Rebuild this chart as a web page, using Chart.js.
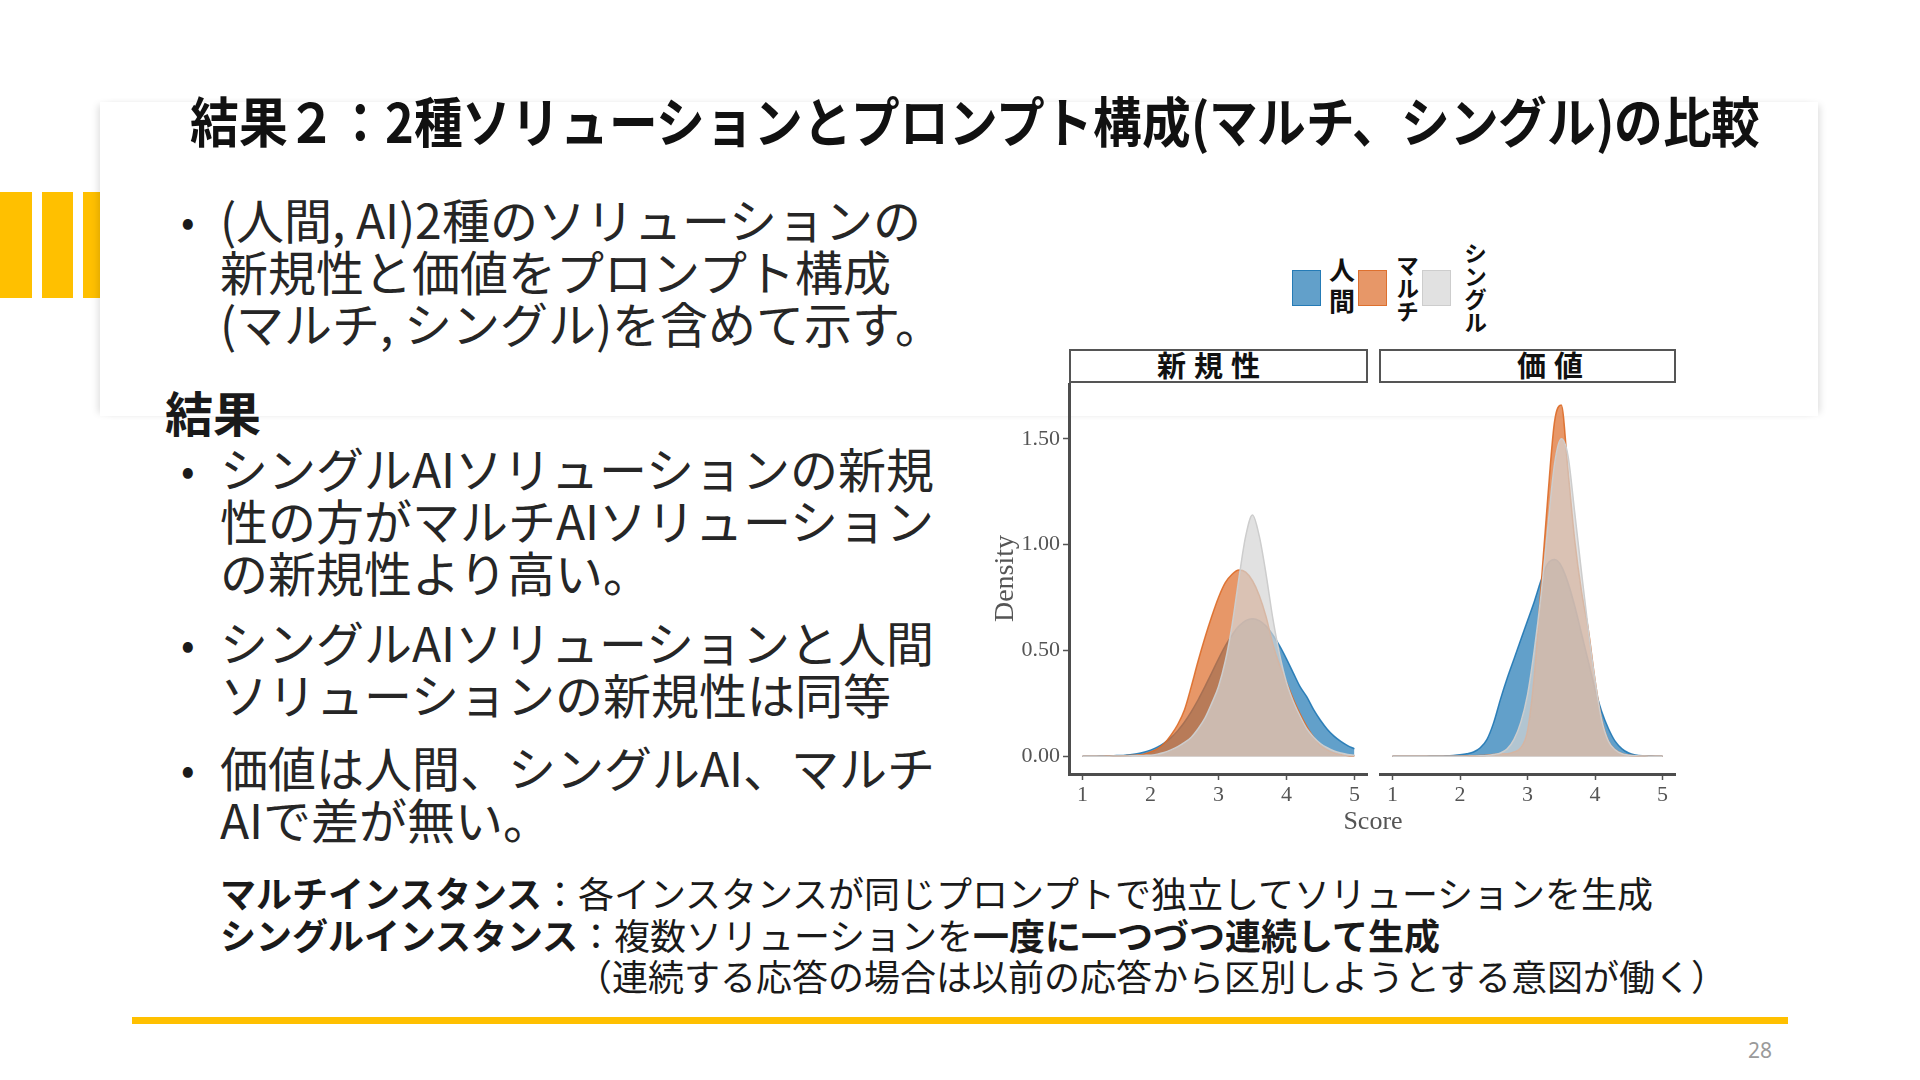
<!DOCTYPE html>
<html lang="ja">
<head>
<meta charset="utf-8">
<title>結果２</title>
<script src="https://cdn.jsdelivr.net/npm/chart.js@4.4.1/dist/chart.umd.min.js"></script>
<style>
  @font-face {
    font-family: 'JPTight'; font-weight: 400;
    src: local('Noto Sans CJK JP'), local('NotoSansCJKjp-Regular'), local('Noto Sans CJK JP Regular');
    ascent-override: 88%; descent-override: 20%; line-gap-override: 0%;
  }
  @font-face {
    font-family: 'JPTight'; font-weight: 700;
    src: local('Noto Sans CJK JP Bold'), local('NotoSansCJKjp-Bold');
    ascent-override: 88%; descent-override: 20%; line-gap-override: 0%;
  }
  html, body { margin: 0; padding: 0; background: #fff; }
  #slide {
    position: relative; width: 1920px; height: 1080px; overflow: hidden;
    font-family: 'JPTight', 'Noto Sans CJK JP', 'Noto Sans CJK SC', sans-serif; color: #1a1a1a;
  }
  .bar { position: absolute; top: 192px; height: 106px; background: #FFC000; }
  #card {
    position: absolute; left: 100px; top: 102px; width: 1718px; height: 314px; background: #fff;
    box-shadow: -5px 0 7px -3px rgba(0,0,0,0.13), 5px 0 7px -3px rgba(0,0,0,0.13);
  }
  #title {
    position: absolute; left: 190px; top: 95px; font-size: 54px; font-weight: 700; line-height: 60px;
    white-space: nowrap; transform-origin: 0 50%; color: #111;
  }
  .para {
    position: absolute; left: 220px; font-size: 48px; font-weight: 400; line-height: 52px; white-space: nowrap; color: #262626;
  }
  .dot { position: absolute; left: 181px; font-size: 40px; line-height: 52px; }
  #head { position: absolute; left: 165px; top: 390px; font-size: 48px; font-weight: 700; line-height: 52px; }
  #notes {
    position: absolute; left: 220px; top: 875px; font-size: 36px; line-height: 41.5px; white-space: nowrap; font-weight: 400;
  }
  #notes b { font-weight: 700; }
  #yline { position: absolute; left: 132px; top: 1017px; width: 1656px; height: 7px; background: #FFC000; }
  #pnum { position: absolute; left: 1740px; top: 1036px; width: 40px; text-align: center; font-size: 21px; color: #9a9a9a; font-family: 'Noto Sans', sans-serif; }
  canvas { position: absolute; }
  .strip {
    position: absolute; top: 349px; height: 34px; box-sizing: border-box; border: 2.5px solid #555; background: #fff;
    text-align: center; font-size: 29px; font-weight: 700; line-height: 33px; letter-spacing: 8px; color: #111; overflow: hidden;
  }
  #legend { position: absolute; left: 1292px; top: 236px; height: 104px; display: flex; align-items: center; }
  .key { width: 29px; height: 36px; box-sizing: border-box; border: 1.5px solid; }
  .lab {
    writing-mode: vertical-rl; text-orientation: upright; font-size: 23px; font-weight: 700; color: #111;
    width: 24px; margin: 0 3px 0 8px; line-height: 24px;
  }
  #score { position: absolute; left: 1313px; width: 120px; top: 806px; text-align: center; font-family: 'Liberation Serif', serif; font-size: 26px; color: #555; }
</style>
</head>
<body>
<div id="slide">
  <div class="bar" style="left:0;width:32px"></div>
  <div class="bar" style="left:42px;width:31px"></div>
  <div class="bar" style="left:83px;width:20px"></div>
  <div id="card"></div>
  <div id="title">結果２：2種ソリューションとプロンプト構成(マルチ、シングル)の比較</div>

  <div class="dot" style="top:197px">•</div>
  <div class="para" style="top:197px">(人間, AI)2種のソリューションの<br>新規性と価値をプロンプト構成<br>(マルチ, シングル)を含めて示す。</div>
  <div id="head">結果</div>
  <div class="dot" style="top:446px">•</div>
  <div class="para" style="top:446px">シングルAIソリューションの新規<br>性の方がマルチAIソリューション<br>の新規性より高い。</div>
  <div class="dot" style="top:620px">•</div>
  <div class="para" style="top:620px">シングルAIソリューションと人間<br>ソリューションの新規性は同等</div>
  <div class="dot" style="top:745px">•</div>
  <div class="para" style="top:745px">価値は人間、シングルAI、マルチ<br>AIで差が無い。</div>

  <div id="legend"></div>
  <div class="strip" id="strip0" style="left:1069px;width:299px"></div>
  <div class="strip" id="strip1" style="left:1379px;width:297px"></div>
  <canvas id="novelty" width="379" height="431" style="left:989px;top:383px"></canvas>
  <canvas id="value" width="297" height="431" style="left:1379px;top:383px"></canvas>
  <div id="score">Score</div>

  <div id="notes">
    <b>マルチインスタンス</b>：各インスタンスが同じプロンプトで独立してソリューションを生成<br>
    <b>シングルインスタンス</b>：複数ソリューションを<b>一度に一つづつ連続して生成</b><br>
    <span style="padding-left:356px">（連続する応答の場合は以前の応答から区別しようとする意図が働く）</span>
  </div>
  <div id="yline"></div>
  <div id="pnum">28</div>
</div>

<script>
const PANELS = ['新規性', '価値'];
const GROUPS = ['人間', 'マルチ', 'シングル'];
const X_TICKS = [1, 2, 3, 4, 5];
const Y_TICKS = [0, 0.5, 1, 1.5];

// score grid the densities were read at
const X_GRID = [1.0, 1.1, 1.2, 1.3, 1.4, 1.5, 1.6, 1.7, 1.8, 1.9,
  2.0, 2.1, 2.2, 2.3, 2.4, 2.5, 2.6, 2.7, 2.8, 2.9,
  3.0, 3.1, 3.2, 3.3, 3.4, 3.5, 3.6, 3.7, 3.8, 3.9,
  4.0, 4.1, 4.2, 4.3, 4.4, 4.5, 4.6, 4.7, 4.8, 4.9, 5.0];

// 新規性
const NOV_HUMAN = [0.000, 0.000, 0.000, 0.001, 0.001, 0.003, 0.004, 0.007, 0.012, 0.019,
  0.029, 0.043, 0.062, 0.088, 0.121, 0.162, 0.211, 0.267, 0.329, 0.394,
  0.460, 0.521, 0.573, 0.615, 0.641, 0.650, 0.641, 0.615, 0.573, 0.521,
  0.460, 0.394, 0.329, 0.280, 0.220, 0.170, 0.128, 0.095, 0.070, 0.050, 0.035];
const NOV_MULTI = [0.000, 0.000, 0.000, 0.000, 0.001, 0.001, 0.002, 0.004, 0.006, 0.010,
  0.020, 0.035, 0.060, 0.100, 0.150, 0.220, 0.330, 0.450, 0.560, 0.660,
  0.750, 0.820, 0.860, 0.880, 0.870, 0.830, 0.760, 0.660, 0.530, 0.430,
  0.350, 0.270, 0.200, 0.140, 0.090, 0.050, 0.030, 0.015, 0.008, 0.004, 0.002];
const NOV_SINGLE = [0.000, 0.000, 0.000, 0.000, 0.000, 0.001, 0.001, 0.002, 0.003, 0.004,
  0.005, 0.010, 0.018, 0.030, 0.045, 0.065, 0.090, 0.130, 0.180, 0.250,
  0.330, 0.450, 0.620, 0.840, 1.040, 1.140, 1.040, 0.860, 0.650, 0.480,
  0.350, 0.260, 0.190, 0.130, 0.090, 0.060, 0.040, 0.025, 0.015, 0.008, 0.005];

// 価値
const VAL_HUMAN = [0.000, 0.000, 0.000, 0.000, 0.000, 0.000, 0.001, 0.001, 0.002, 0.004,
  0.007, 0.012, 0.020, 0.040, 0.080, 0.160, 0.270, 0.370, 0.460, 0.550,
  0.640, 0.730, 0.830, 0.910, 0.930, 0.900, 0.820, 0.710, 0.580, 0.450,
  0.320, 0.210, 0.130, 0.070, 0.035, 0.015, 0.006, 0.002, 0.001, 0.000, 0.000];
const VAL_MULTI = [0.000, 0.000, 0.000, 0.000, 0.000, 0.000, 0.000, 0.000, 0.000, 0.000,
  0.000, 0.001, 0.002, 0.003, 0.005, 0.008, 0.012, 0.012, 0.020, 0.040,
  0.120, 0.380, 0.800, 1.220, 1.580, 1.660, 1.350, 1.020, 0.780, 0.600,
  0.360, 0.170, 0.070, 0.030, 0.012, 0.005, 0.002, 0.001, 0.000, 0.000, 0.000];
const VAL_SINGLE = [0.000, 0.000, 0.000, 0.000, 0.000, 0.000, 0.000, 0.000, 0.000, 0.000,
  0.000, 0.000, 0.001, 0.002, 0.004, 0.008, 0.015, 0.035, 0.080, 0.160,
  0.290, 0.500, 0.760, 1.080, 1.380, 1.500, 1.420, 1.150, 0.870, 0.600,
  0.360, 0.170, 0.070, 0.030, 0.012, 0.005, 0.002, 0.001, 0.000, 0.000, 0.000];

const FILLS = ['rgba(31,119,180,0.7)', 'rgba(221,107,40,0.7)', 'rgba(212,212,212,0.7)'];
const LINES = ['rgba(31,119,180,0.9)', 'rgba(221,107,40,0.9)', 'rgba(205,205,205,1)'];

// title fitted to the width it has on the slide
const title = document.getElementById('title');
title.style.transform = 'scaleX(' + (1570 / title.scrollWidth) + ')';

// strips
document.getElementById('strip0').innerHTML = '<span style="position:relative;left:-6px">' + PANELS[0] + '</span>';
document.getElementById('strip1').innerHTML = '<span style="position:relative;left:26px">' + PANELS[1] + '</span>';

// legend
const legend = document.getElementById('legend');
GROUPS.forEach((g, i) => {
  const key = document.createElement('div');
  key.className = 'key';
  key.style.background = FILLS[i];
  key.style.borderColor = LINES[i];
  const lab = document.createElement('div');
  lab.className = 'lab';
  lab.textContent = g;
  if (i === 0) { lab.style.fontSize = '26px'; lab.style.letterSpacing = '5px'; lab.style.width = '26px'; lab.style.lineHeight = '26px'; }
  if (i === 2) lab.style.marginLeft = '12px';
  legend.appendChild(key);
  legend.appendChild(lab);
});

const serif = 'Liberation Serif';

// keep the plot area exactly where the canvas puts it
function noPad(s) {
  s.paddingTop = 0; s.paddingBottom = 0; s.paddingLeft = 0; s.paddingRight = 0;
}

function makePanel(id, series, showY) {
  const datasets = series.map((vals, i) => ({
    label: GROUPS[i],
    data: X_GRID.map((x, k) => ({ x: x, y: vals[k] })),
    backgroundColor: FILLS[i],
    borderColor: LINES[i],
    borderWidth: 1.5,
    fill: 'origin',
    pointRadius: 0,
    cubicInterpolationMode: 'monotone',
    order: 2 - i,
  }));

  return new Chart(document.getElementById(id), {
    type: 'line',
    data: { datasets: datasets },
    options: {
      responsive: false,
      animation: false,
      layout: { padding: 0 },
      plugins: { legend: { display: false }, tooltip: { enabled: false } },
      scales: {
        x: {
          type: 'linear', min: 0.8, max: 5.2,
          afterBuildTicks: (s) => { s.ticks = X_TICKS.map((v) => ({ value: v })); },
          afterFit: (s) => { s.height = 40; noPad(s); },
          grid: { drawOnChartArea: false, drawTicks: true, tickLength: 6, tickWidth: 1.5, tickColor: '#555' },
          border: { display: true, color: '#4d4d4d', width: 3 },
          ticks: { font: { family: serif, size: 22 }, color: '#555', padding: 2, maxRotation: 0, autoSkip: false },
        },
        y: {
          type: 'linear', min: -0.084, max: 1.764, display: showY,
          afterBuildTicks: (s) => { s.ticks = Y_TICKS.map((v) => ({ value: v })); },
          afterFit: (s) => { s.width = showY ? 80 : 0; noPad(s); },
          grid: { drawOnChartArea: false, drawTicks: true, tickLength: 6, tickWidth: 1.5, tickColor: '#555' },
          border: { display: true, color: '#4d4d4d', width: 3 },
          title: { display: true, text: 'Density', font: { family: serif, size: 28 }, color: '#555', padding: 0 },
          ticks: { font: { family: serif, size: 22 }, color: '#555', padding: 3, callback: (v) => v.toFixed(2) },
        },
      },
    },
  });
}

makePanel('novelty', [NOV_HUMAN, NOV_MULTI, NOV_SINGLE], true);
makePanel('value', [VAL_HUMAN, VAL_MULTI, VAL_SINGLE], false);
</script>
</body>
</html>
